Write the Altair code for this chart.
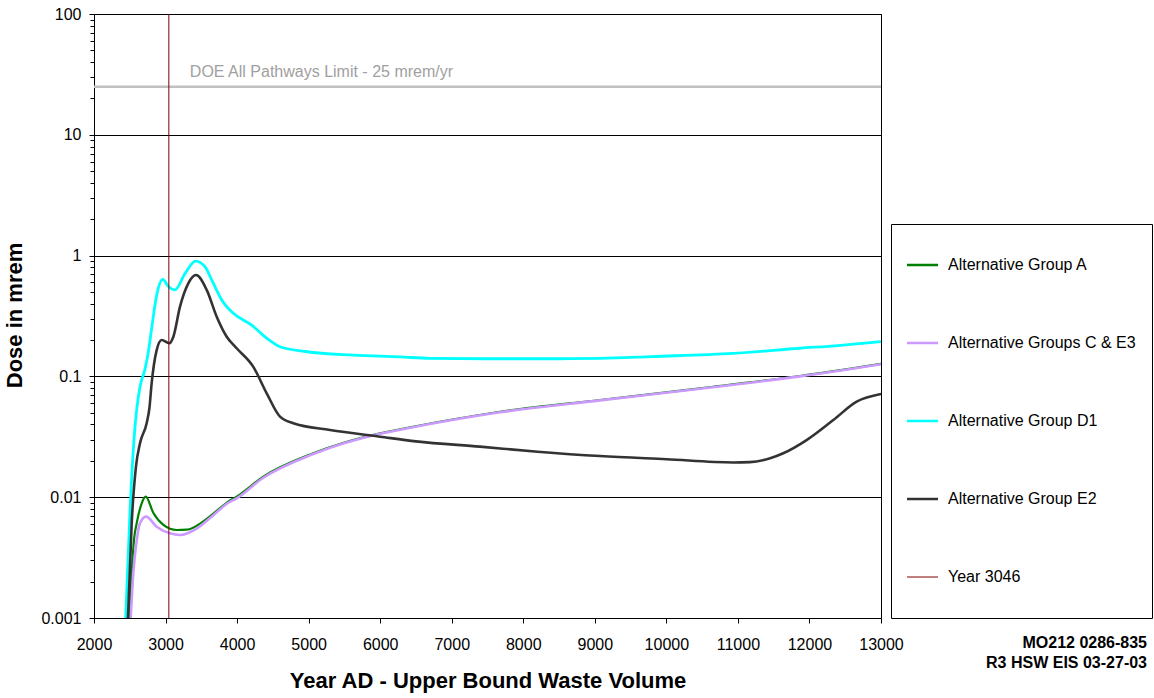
import altair as alt
import pandas as pd

# ---- data ----
a_years = [2490, 2527, 2560, 2597, 2667, 2723, 2830, 2970, 3156, 3296, 3528, 3668, 3877, 3994,
           4367, 5065, 5997, 6277, 7674, 9072, 10470, 11867, 13000]
a_vals = [0.001, 0.0024, 0.0045, 0.0061, 0.0089, 0.0101, 0.0074, 0.0059, 0.00535, 0.00538, 0.0063,
          0.0073, 0.0092, 0.0101, 0.0148, 0.0231, 0.0338, 0.0365, 0.051, 0.0638, 0.0797, 0.1008, 0.127]

c_years = [2513, 2550, 2597, 2643, 2727, 2876, 3062, 3202, 3435, 3668, 3877, 3994, 4367, 5065,
           5997, 6277, 7674, 9072, 10470, 11867, 13000]
c_vals = [0.001, 0.0024, 0.0044, 0.0061, 0.0069, 0.0057, 0.00502, 0.00487, 0.0055, 0.0071, 0.0090,
          0.0098, 0.0145, 0.0228, 0.0335, 0.0362, 0.0505, 0.0633, 0.079, 0.1, 0.126]

d1_years = [2443, 2503, 2550, 2573, 2643, 2713, 2760, 2806, 2876, 2960, 3040, 3132, 3272, 3420,
            3551, 3650, 3807, 3947, 4204, 4414, 4600, 4973, 5624, 6277, 6696, 7500, 8500, 9072,
            9800, 10932, 11867, 12400, 13000]
d1_vals = [0.001, 0.0075, 0.025, 0.038, 0.082, 0.115, 0.16, 0.25, 0.47, 0.635, 0.555, 0.52, 0.71,
           0.90, 0.81, 0.62, 0.41, 0.333, 0.266, 0.207, 0.176, 0.160, 0.150, 0.145, 0.141, 0.140,
           0.140, 0.141, 0.146, 0.155, 0.171, 0.18, 0.194]

e2_years = [2475, 2527, 2587, 2643, 2736, 2775, 2806, 2876, 2946, 3053, 3109, 3202, 3318, 3426,
            3575, 3715, 3855, 3994, 4227, 4414, 4600, 4786, 5298, 5997, 6500, 7395, 8200, 9072,
            10004, 10935, 11168, 11450, 11634, 11960, 12333, 12660, 13000]
e2_vals = [0.001, 0.0061, 0.018, 0.028, 0.041, 0.055, 0.088, 0.165, 0.2, 0.188, 0.213, 0.378, 0.59,
           0.69, 0.52, 0.312, 0.213, 0.171, 0.12, 0.0724, 0.0464, 0.0409, 0.036, 0.0317, 0.029,
           0.0262, 0.0238, 0.0219, 0.0206, 0.0194, 0.0195, 0.021, 0.0231, 0.0297, 0.0435, 0.0618,
           0.0715]

year_line = 3046
doe_limit = 25
doe_label = "DOE All Pathways Limit - 25 mrem/yr"
doe_label_year = 3340

series_names = ["Alternative Group A", "Alternative Groups C & E3", "Alternative Group D1",
                "Alternative Group E2", "Year 3046"]
series_colors = ["#008000", "#CC99FF", "#00FFFF", "#333333", "#800000"]

x_ticks = [2000, 3000, 4000, 5000, 6000, 7000, 8000, 9000, 10000, 11000, 12000, 13000]
decades = [0.001, 0.01, 0.1, 1, 10, 100]
y_ticks = [m * d for d in [0.001, 0.01, 0.1, 1, 10] for m in range(1, 10)] + [100]

FONT = "Liberation Sans"

def frame(name, ys, vs):
    return pd.DataFrame({"year": ys, "dose": vs, "series": name})

df_a = frame(series_names[0], a_years, a_vals)
df_c = frame(series_names[1], c_years, c_vals)
df_d = frame(series_names[2], d1_years, d1_vals)
df_e = frame(series_names[3], e2_years, e2_vals)
df_yr = pd.DataFrame({"year": [year_line], "series": [series_names[4]]})
df_doe = pd.DataFrame({"dose": [doe_limit]})
df_doe_txt = pd.DataFrame({"year": [doe_label_year], "dose": [doe_limit], "t": [doe_label]})

is_decade = "indexof(" + str(decades) + ", datum.value) >= 0"

x_scale = alt.Scale(domain=[2000, 13000], nice=False)
y_scale = alt.Scale(type="log", domain=[0.001, 100], nice=False)

x_enc = alt.X("year:Q", scale=x_scale,
              axis=alt.Axis(values=x_ticks, format="d", title="Year AD - Upper Bound Waste Volume",
                            grid=False, tickSize=5, tickColor="black", domainColor="black",
                            labelFontSize=16, labelPadding=13, labelColor="black",
                            titleFontSize=22, titleFontWeight="bold", titleColor="black",
                            titleBaseline="alphabetic", titleY=69, labelFlush=False))
y_enc = alt.Y("dose:Q", scale=y_scale,
              axis=alt.Axis(values=y_ticks, labelExpr=is_decade + " ? format(datum.value, '~g') : ''",
                            title="Dose in mrem", grid=True, gridColor="black", gridWidth=1,
                            gridOpacity={"condition": {"test": is_decade, "value": 1}, "value": 0},
                            tickSize={"condition": {"test": is_decade, "value": 5}, "value": 4},
                            tickColor="black", domainColor="black", labelFontSize=16,
                            labelPadding=8, labelColor="black", labelFlush=False,
                            titleFontSize=22, titleFontWeight="bold", titleColor="black",
                            titleBaseline="alphabetic", titleX=-73, titleY=301, titleAngle=270))

color = alt.Color("series:N",
                  scale=alt.Scale(domain=series_names, range=series_colors),
                  legend=alt.Legend(orient="none", legendX=797, legendY=210, title=None,
                                    padding=16, strokeColor="black", fillColor="white",
                                    symbolType="stroke", symbolSize=1600, symbolOffset=3,
                                    symbolStrokeWidth=alt.ExprRef("datum.value == 'Year 3046' ? 1 : 2.5"),
                                    labelFontSize=16, labelOffset=22, rowPadding=28,
                                    clipHeight=50, labelLimit=400, labelColor="black"))

doe_rule = alt.Chart(df_doe).mark_rule(color="#C0C0C0", strokeWidth=2.5).encode(
    y=alt.Y("dose:Q", scale=y_scale))
doe_text = alt.Chart(df_doe_txt).mark_text(align="left", baseline="alphabetic", dy=-9.5,
                                           fontSize=16, color="#A0A0A0", font=FONT).encode(
    x=alt.X("year:Q", scale=x_scale), y=alt.Y("dose:Q", scale=y_scale), text="t:N")

def line(df, width):
    return alt.Chart(df).mark_line(strokeWidth=width, interpolate="monotone", clip=True).encode(
        x=x_enc, y=y_enc, color=color)

year_rule = alt.Chart(df_yr).mark_rule(strokeWidth=1).encode(
    x=alt.X("year:Q", scale=x_scale), color=color)

chart = alt.layer(
    doe_rule, doe_text,
    line(df_a, 2.2), line(df_c, 2.6), line(df_d, 2.8), line(df_e, 2.6),
    year_rule,
).properties(
    width=787, height=604,
    padding={"left": 94, "top": 14, "right": 273, "bottom": 80},
    autosize="none",
    title=alt.TitleParams(["MO212 0286-835", "R3 HSW EIS 03-27-03"], orient="bottom",
                          anchor="end", frame="group", dx=266, dy=-60, fontSize=16,
                          fontWeight="bold", font=FONT, color="black", lineHeight=20,
                          baseline="top"),
).configure(font=FONT).configure_view(stroke="black", strokeWidth=1)

chart.save("out.html", embed_options={"renderer": "svg", "actions": False})
